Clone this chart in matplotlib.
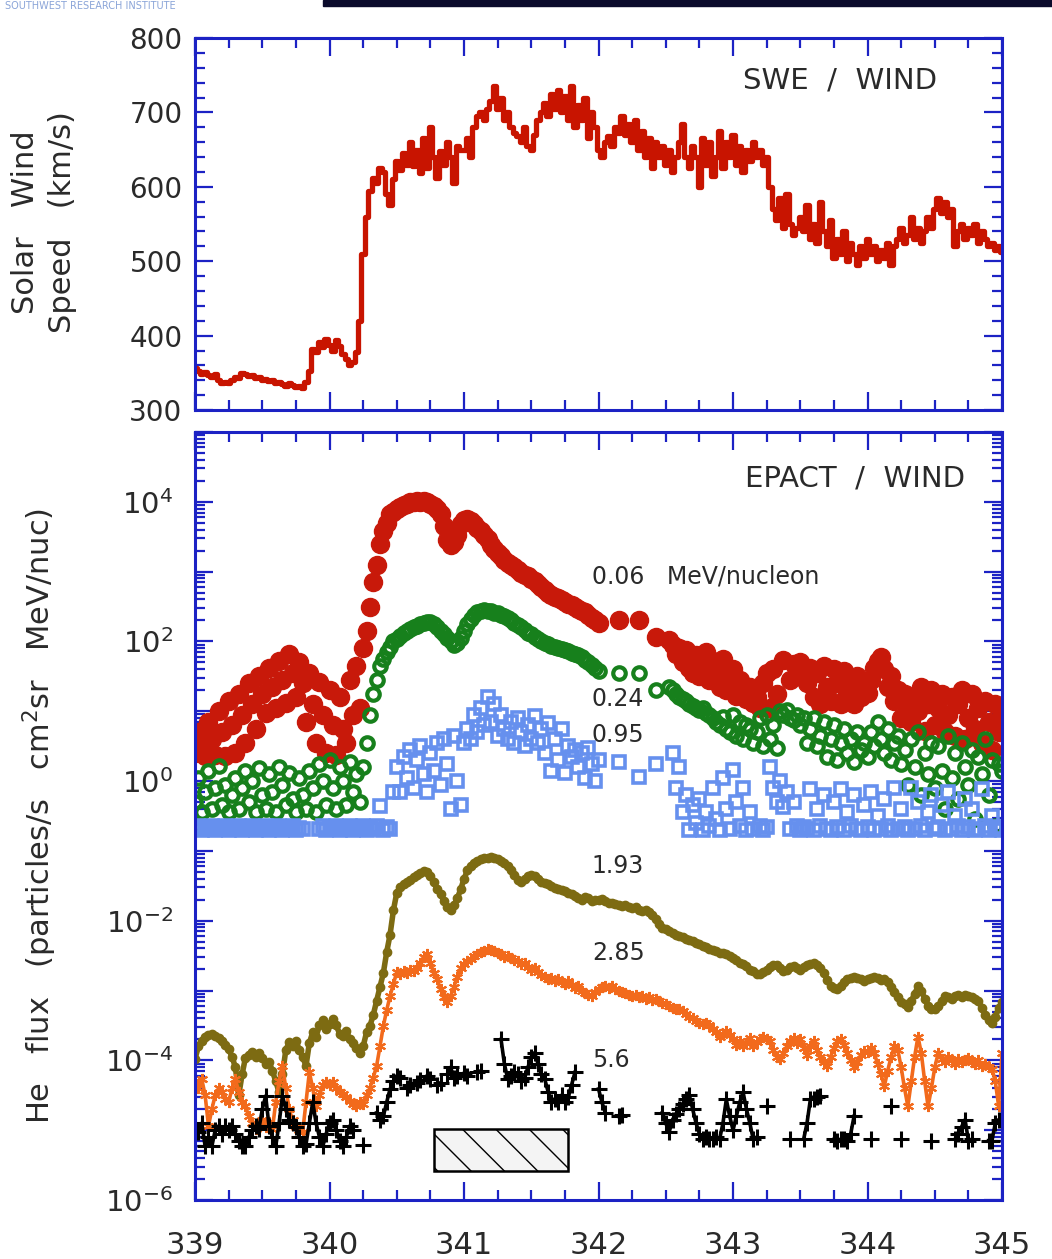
import numpy as np
import matplotlib
matplotlib.use("Agg")
import matplotlib.pyplot as plt
from matplotlib.patches import Rectangle
from matplotlib.ticker import FixedLocator, MultipleLocator, FuncFormatter, NullFormatter

nan = np.nan

# day of year, sampled every 0.025 day from 339.0 to 345.0
day_start = 339.0
day_step = 0.025

# solar wind speed (km/s)
speed = [
    356, 352, 349, 351, 347, 345, 348, 340, 336, 338,
    337, 341, 345, 343, 350, 348, 346, 347, 343, 344,
    341, 342, 339, 340, 336, 338, 335, 333, 336, 334,
    331, 333, 330, 338, 352, 382, 378, 392, 385, 395,
    388, 380, 394, 386, 376, 368, 360, 364, 378, 420,
    510, 560, 595, 612, 605, 625, 620, 590, 575, 610,
    635, 622, 645, 630, 660, 628, 650, 618, 665, 625,
    680, 640, 612, 648, 630, 660, 640, 605, 655, 650,
    650, 665, 640, 680, 695, 700, 690, 705, 715, 735,
    705, 720, 690, 700, 680, 672, 668, 660, 680, 655,
    650, 670, 690, 700, 712, 695, 725, 705, 730, 700,
    722, 690, 735, 680, 710, 690, 720, 665, 700, 680,
    650, 640, 660, 668, 655, 680, 672, 695, 670, 685,
    660, 690, 650, 675, 640, 665, 625, 660, 640, 655,
    630, 650, 620, 640, 660, 685, 640, 625, 655, 640,
    600, 665, 630, 660, 615, 640, 675, 625, 660, 640,
    670, 630, 655, 620, 650, 635, 660, 640, 650, 630,
    640, 600, 570, 555, 585, 545, 590, 550, 535, 545,
    560, 540, 575, 530, 550, 525, 580, 540, 520, 555,
    505, 530, 510, 540, 500, 525, 510, 495, 520, 505,
    530, 510, 520, 500, 515, 505, 525, 495, 520, 530,
    545, 525, 535, 560, 530, 545, 525, 540, 560, 545,
    570, 585, 565, 580, 560, 570, 520, 540, 550, 530,
    545, 535, 550, 525, 540, 530, 520, 525, 515, 520,
    512,
]

# log10 He flux, 0.06 MeV/nucleon
he_006 = [
    0.40, 0.70, 0.52, 0.36, 0.85, 0.60, 0.38, 1.00, 0.70, 0.36,
    1.15, 0.80, 0.40, 1.25, 0.95, 0.55, 1.40, 1.10, 0.75, 1.50,
    1.25, 0.98, 1.62, 1.35, 1.05, 1.72, 1.45, 1.12, 1.82, 1.55,
    1.20, 1.70, 1.40, 0.85, 1.55, 1.10, 0.55, 1.42, 0.95, 0.40,
    1.30, 0.80, 0.38, 1.20, 0.75, 0.55, 1.45, 0.95, 1.65, 1.05,
    1.90, 2.15, 2.50, 2.85, 3.10, 3.40, 3.58, 3.70, 3.82, 3.86,
    3.90, 3.93, 3.96, 3.97, 3.99, 4.00, 4.01, 4.00, 4.01, 3.99,
    3.97, 3.94, 3.90, 3.82, 3.65, 3.45, 3.38, 3.42, 3.52, 3.68,
    3.74, 3.76, 3.72, 3.68, 3.63, 3.58, 3.52, 3.46, 3.38, 3.32,
    3.26, 3.22, 3.16, 3.12, 3.10, 3.06, 3.02, 2.98, 2.95, 2.93,
    2.90, 2.86, 2.82, 2.78, 2.74, 2.70, 2.67, 2.64, 2.62, 2.59,
    2.56, 2.54, 2.52, 2.50, 2.47, 2.44, 2.42, 2.38, 2.34, 2.30,
    2.27, nan, nan, nan, nan, nan, 2.31, nan, nan, nan,
    nan, nan, 2.30, nan, nan, nan, nan, 2.07, nan, nan,
    nan, 2.02, 1.95, 1.82, 1.90, 1.70, 1.88, 1.62, 1.55, 1.80,
    1.50, 1.68, 1.85, 1.45, 1.72, 1.58, 1.35, 1.75, 1.30, 1.55,
    1.60, 1.22, 1.45, 1.30, 1.18, 1.35, 1.12, 1.20, 1.05, 1.40,
    1.55, 1.05, 1.60, 1.25, nan, 1.74, nan, 1.45, 1.68, 1.55,
    1.70, 1.48, 1.40, 1.62, 1.20, 1.55, 1.10, 1.65, 1.35, 1.15,
    1.60, 1.40, 1.10, 1.58, 1.25, 1.45, 1.10, 1.50, 1.20, 1.35,
    1.26, 1.45, 1.62, 1.72, 1.78, 1.60, 1.35, 1.50, 1.15, 1.30,
    0.90, 1.25, 1.05, 0.85, 1.20, 1.00, 1.35, 0.72, 1.10, 1.30,
    0.80, 1.05, 1.25, 0.70, 0.95, 1.20, 0.65, 1.10, 1.30, 0.60,
    0.90, 1.25, 0.75, 1.05, 0.55, 1.15, 0.85, 0.45, 1.10, 0.70,
    0.95,
]

# log10 He flux, 0.24 MeV/nucleon
he_024 = [
    -0.30, 0.05, -0.45, -0.15, 0.15, -0.40, -0.10, 0.22, -0.35, -0.05,
    -0.45, -0.20, 0.05, -0.40, -0.10, 0.15, -0.30, 0.00, -0.45, 0.18,
    -0.20, -0.40, 0.10, -0.15, -0.45, 0.20, -0.05, -0.35, 0.12, -0.25,
    -0.45, 0.05, -0.20, -0.40, 0.15, -0.10, -0.45, 0.25, 0.00, -0.35,
    0.30, -0.10, -0.40, 0.20, 0.00, -0.35, 0.28, -0.15, 0.10, -0.30,
    0.20, 0.55, 0.95, 1.25, 1.45, 1.65, 1.75, 1.85, 1.92, 2.00,
    2.03, 2.08, 2.12, 2.15, 2.18, 2.20, 2.22, 2.25, 2.26, 2.28,
    2.28, 2.25, 2.20, 2.15, 2.10, 2.05, 2.00, 1.95, 1.98, 2.05,
    2.15, 2.25, 2.32, 2.38, 2.42, 2.44, 2.45, 2.44, 2.43, 2.41,
    2.40, 2.38, 2.36, 2.33, 2.30, 2.27, 2.24, 2.20, 2.16, 2.12,
    2.10, 2.06, 2.03, 2.00, 1.98, 1.96, 1.94, 1.92, 1.90, 1.89,
    1.88, 1.86, 1.84, 1.82, 1.80, 1.77, 1.74, 1.70, 1.66, 1.62,
    1.58, nan, nan, nan, nan, nan, 1.55, nan, nan, nan,
    nan, nan, 1.55, nan, nan, nan, nan, 1.31, nan, nan,
    nan, 1.35, 1.30, 1.25, 1.20, 1.18, 1.15, 1.10, 1.08, 1.05,
    1.02, 1.05, 0.98, 0.95, 0.90, 0.85, 0.80, 0.92, 0.75, 0.70,
    0.95, 0.65, 0.85, 0.60, 0.80, 0.75, 0.55, 0.70, 0.90, 0.50,
    0.95, 0.60, 0.80, 0.48, 1.00, 0.95, 1.02, 0.90, 0.88, 0.95,
    0.80, 0.90, 0.55, 0.75, 0.90, 0.50, 0.65, 0.85, 0.35, 0.60,
    0.80, 0.30, 0.55, 0.75, 0.40, 0.60, 0.28, 0.70, 0.45, 0.55,
    0.35, 0.70, 0.50, 0.85, 0.60, 0.40, 0.75, 0.30, 0.55, 0.65,
    0.25, 0.45, -0.05, 0.60, 0.20, 0.70, -0.20, 0.40, 0.10, 0.55,
    -0.10, 0.50, 0.15, -0.40, 0.65, 0.05, 0.40, -0.25, 0.55, 0.20,
    -0.05, 0.45, -0.55, 0.35, 0.10, 0.60, -0.20, 0.30, -0.65, 0.25,
    0.15,
]

# log10 He flux, 0.95 MeV/nucleon
he_095 = [
    -0.68, -0.65, -0.70, -0.66, -0.68, -0.64, -0.70, -0.67, -0.68, -0.65,
    -0.70, -0.66, -0.68, -0.64, -0.70, -0.67, -0.68, -0.65, -0.70, -0.66,
    -0.68, -0.64, -0.70, -0.67, -0.68, -0.65, -0.70, -0.66, -0.68, -0.64,
    -0.70, -0.67, -0.68, nan, nan, nan, nan, -0.68, -0.65, -0.70,
    -0.66, -0.68, -0.64, -0.70, -0.67, -0.68, -0.65, -0.70, -0.66, -0.68,
    -0.64, -0.70, -0.67, -0.68, -0.65, -0.36, -0.70, -0.66, -0.68, -0.15,
    0.20, -0.15, 0.35, 0.05, 0.45, -0.10, 0.30, 0.50, 0.10, -0.15,
    0.40, 0.15, 0.55, -0.05, 0.60, 0.25, -0.40, 0.64, 0.00, -0.35,
    0.55, 0.75, 0.60, 0.95, 0.70, 1.05, 0.80, 1.21, 0.85, 1.10,
    0.65, 0.95, 0.75, 0.60, 0.85, 0.55, 0.90, 0.70, 0.50, 0.80,
    0.60, 0.93, 0.55, 0.75, 0.40, 0.83, 0.15, 0.60, 0.30, 0.75,
    0.12, 0.50, 0.35, 0.45, 0.20, 0.40, 0.05, 0.48, 0.25, 0.00,
    0.30, nan, nan, nan, nan, nan, 0.28, nan, nan, nan,
    nan, nan, 0.06, nan, nan, nan, nan, 0.24, nan, nan,
    nan, nan, 0.40, -0.10, 0.20, -0.45, -0.20, -0.70, -0.35, -0.60,
    -0.25, -0.70, -0.45, -0.65, -0.10, -0.55, -0.70, 0.05, -0.40, -0.68,
    0.16, -0.30, -0.65, -0.10, -0.70, -0.45, -0.68, nan, -0.65, -0.70,
    -0.66, 0.20, -0.10, -0.30, 0.00, -0.37, -0.15, -0.68, -0.30, -0.65,
    -0.70, -0.66, -0.68, -0.12, -0.70, -0.40, -0.65, -0.20, -0.68, -0.70,
    -0.30, -0.66, -0.12, -0.70, -0.45, -0.65, -0.20, -0.68, -0.70, -0.35,
    -0.66, -0.15, -0.70, -0.50, -0.68, -0.25, -0.65, -0.70, -0.10, -0.68,
    -0.40, -0.66, -0.70, -0.10, -0.68, -0.30, -0.65, -0.70, -0.45, -0.20,
    -0.68, -0.66, -0.35, -0.70, -0.15, -0.68, -0.50, -0.65, -0.70, -0.25,
    -0.66, -0.40, -0.70, -0.68, -0.12, -0.65, -0.70, -0.50, -0.68, -0.66,
    -0.70,
]

# log10 He flux, 1.93 MeV/nucleon
he_193 = [
    -3.98, -3.80, -3.72, -3.66, -3.64, -3.63, -3.65, -3.68, -3.72, -3.78,
    -3.84, -3.95, -4.10, -4.50, -4.20, -3.96, -3.92, -3.88, -3.95, -3.90,
    -3.96, -4.05, -4.02, -4.15, -4.30, -4.46, -4.20, -3.85, -3.74, -3.80,
    -3.72, -3.85, -3.95, -4.08, -3.75, -3.60, -3.66, -3.50, -3.42, -3.55,
    -3.48, -3.41, -3.50, -3.62, -3.65, -3.58, -3.70, -3.75, -3.82, -3.89,
    -3.80, -3.60, -3.51, -3.35, -3.15, -2.95, -2.75, -2.45, -2.20, -1.85,
    -1.60, -1.52, -1.48, -1.45, -1.42, -1.38, -1.35, -1.32, -1.29, -1.30,
    -1.36, -1.45, -1.55, -1.62, -1.72, -1.80, -1.84, -1.78, -1.68, -1.55,
    -1.40, -1.28, -1.22, -1.18, -1.15, -1.12, -1.10, -1.10, -1.09, -1.10,
    -1.12, -1.14, -1.18, -1.22, -1.28, -1.35, -1.42, -1.45, -1.40, -1.36,
    -1.34, -1.36, -1.40, -1.44, -1.46, -1.48, -1.50, -1.53, -1.55, -1.56,
    -1.58, -1.60, -1.62, -1.65, -1.68, -1.70, -1.66, -1.68, -1.72, -1.70,
    -1.71, -1.69, -1.72, -1.75, -1.74, -1.76, -1.78, -1.79, -1.77, -1.80,
    -1.82, -1.80, -1.84, -1.86, -1.84, -1.88, -1.92, -1.98, -2.05, -2.10,
    -2.12, -2.15, -2.18, -2.20, -2.22, -2.24, -2.26, -2.27, -2.29, -2.32,
    -2.34, -2.36, -2.38, -2.40, -2.42, -2.44, -2.46, -2.47, -2.48, -2.50,
    -2.53, -2.56, -2.60, -2.62, -2.65, -2.70, -2.72, -2.76, -2.77, -2.74,
    -2.70, -2.66, -2.64, -2.63, -2.68, -2.72, -2.70, -2.67, -2.65, -2.68,
    -2.70, -2.67, -2.64, -2.62, -2.60, -2.63, -2.68, -2.75, -2.85, -2.93,
    -2.96, -2.98, -2.94, -2.88, -2.84, -2.82, -2.80, -2.82, -2.84, -2.86,
    -2.84, -2.82, -2.80, -2.82, -2.85, -2.83, -2.88, -2.95, -3.02, -3.10,
    -3.16, -3.20, -3.23, -3.15, -3.05, -2.94, -3.00, -3.12, -3.22, -3.27,
    -3.27, -3.22, -3.15, -3.08, -3.10, -3.12, -3.08, -3.06, -3.10, -3.07,
    -3.08, -3.10, -3.12, -3.15, -3.25, -3.35, -3.42, -3.46, -3.38, -3.25,
    -3.17,
]

# log10 He flux, 2.85 MeV/nucleon
he_285 = [
    -4.30, -4.40, -4.27, -4.50, -4.94, -4.70, -4.50, -4.40, -4.45, -4.55,
    -4.60, -4.40, -4.27, -4.45, -4.60, -4.66, -4.80, -4.90, -4.99, -4.90,
    -4.85, -4.95, -4.88, -4.99, -4.60, -4.30, -4.08, -4.40, -4.70, -4.86,
    -4.95, -5.00, -5.03, -4.60, -4.17, -4.40, -4.66, -4.50, -4.35, -4.31,
    -4.35, -4.31, -4.40, -4.45, -4.48, -4.52, -4.58, -4.62, -4.66, -4.60,
    -4.62, -4.50, -4.40, -4.25, -4.08, -3.80, -3.51, -3.28, -3.08, -2.90,
    -2.74, -2.76, -2.72, -2.75, -2.70, -2.72, -2.68, -2.60, -2.52, -2.48,
    -2.60, -2.75, -2.84, -2.98, -3.10, -3.17, -3.08, -2.95, -2.80, -2.68,
    -2.62, -2.58, -2.55, -2.50, -2.48, -2.45, -2.43, -2.41, -2.42, -2.44,
    -2.46, -2.48, -2.52, -2.50, -2.54, -2.56, -2.58, -2.62, -2.60, -2.66,
    -2.70, -2.68, -2.74, -2.78, -2.80, -2.84, -2.82, -2.86, -2.84, -2.88,
    -2.90, -2.86, -2.92, -2.96, -2.94, -3.00, -3.04, -3.06, -3.08, -3.02,
    -2.98, -2.95, -2.94, -2.96, -2.93, -2.98, -3.00, -3.02, -3.04, -3.06,
    -3.08, -3.06, -3.10, -3.08, -3.12, -3.10, -3.14, -3.12, -3.15, -3.18,
    -3.20, -3.22, -3.25, -3.27, -3.26, -3.30, -3.34, -3.38, -3.40, -3.44,
    -3.46, -3.48, -3.46, -3.50, -3.55, -3.60, -3.66, -3.62, -3.58, -3.64,
    -3.70, -3.78, -3.72, -3.80, -3.75, -3.68, -3.80, -3.74, -3.70, -3.66,
    -3.70, -3.72, -3.85, -3.95, -3.98, -3.90, -3.80, -3.72, -3.68, -3.75,
    -3.70, -3.82, -3.92, -3.80, -3.72, -3.85, -3.95, -4.02, -4.08, -3.95,
    -3.82, -3.72, -3.70, -3.78, -3.90, -4.00, -4.10, -4.02, -3.92, -3.86,
    -3.88, -3.82, -3.90, -4.05, -4.20, -4.37, -4.15, -3.95, -3.80, -3.85,
    -4.10, -4.40, -4.66, -4.30, -3.95, -3.66, -3.90, -4.30, -4.66, -4.40,
    -4.10, -3.90, -3.98, -4.02, -3.95, -4.00, -4.05, -3.98, -4.02, -4.00,
    -3.96, -4.02, -4.05, -4.00, -4.08, -4.05, -4.10, -4.12, -4.30, -4.66,
    -3.90,
]

# log10 He flux, 5.6 MeV/nucleon (gaps where no counts)
he_56 = [
    -4.95, -5.03, -4.90, -5.23, -5.10, -5.23, -5.00, -4.94, -5.05, -4.94,
    -5.00, -4.94, -5.05, -5.15, -5.23, -5.23, -5.10, -5.00, -4.94, -4.98,
    -4.70, -4.51, -4.94, -5.10, -5.23, -4.90, -4.51, -4.70, -4.85, -4.90,
    -4.95, -5.10, -5.23, -5.20, -4.90, -4.60, -4.90, -5.10, -5.23, -5.05,
    -4.90, -4.85, -5.00, -5.15, -5.23, -5.10, -4.94, -5.00, nan, nan,
    -5.22, nan, nan, nan, -4.75, -4.85, -4.80, -4.60, -4.41, -4.30,
    -4.22, -4.25, nan, -4.40, -4.36, nan, -4.33, -4.28, nan, -4.22,
    -4.27, nan, -4.36, -4.32, nan, -4.20, -4.10, -4.25, -4.22, nan,
    -4.18, -4.22, nan, nan, -4.17, -4.15, nan, nan, nan, nan,
    nan, -3.70, -4.05, -4.27, -4.22, -4.17, -4.20, -4.30, -4.25, -4.10,
    -3.95, -3.89, -4.05, -4.20, -4.27, -4.45, -4.60, -4.55, -4.60, -4.50,
    -4.60, -4.52, -4.35, -4.17, nan, nan, nan, nan, nan, nan,
    -4.41, -4.60, -4.75, nan, nan, nan, -4.80, -4.78, nan, nan,
    nan, nan, nan, nan, nan, nan, nan, nan, nan, -4.75,
    -4.90, -5.03, -4.85, -4.77, -4.70, -4.62, -4.55, -4.50, -4.70, -4.90,
    -5.05, -5.13, -5.10, -5.13, -5.13, -5.10, -5.13, -4.90, -4.56, -4.80,
    -5.00, -4.80, -4.60, -4.46, -4.70, -4.90, -5.13, -5.10, nan, nan,
    -4.66, nan, nan, nan, nan, nan, nan, -5.13, nan, nan,
    nan, -5.13, -4.90, -4.56, -4.55, -4.52, -4.51, nan, nan, nan,
    -5.13, -5.15, -5.13, -5.12, -5.15, -5.05, -4.80, nan, nan, nan,
    nan, -5.13, nan, nan, nan, nan, nan, -4.66, nan, nan,
    -5.13, nan, nan, nan, nan, nan, nan, nan, nan, -5.15,
    nan, nan, nan, nan, nan, nan, -5.13, -5.05, -4.95, -4.85,
    -5.15, -5.13, nan, nan, nan, nan, -5.15, -5.15, -4.90, -4.85,
    -4.85,
]

channel_labels = ["0.06   MeV/nucleon", "0.24", "0.95", "1.93", "2.85", "5.6"]
channel_label_y = [2.93, 1.17, 0.66, -1.22, -2.47, -4.0]

AXIS_BLUE = "#1c22c4"
TEXT = "#2a2a2a"

days = day_start + day_step * np.arange(len(speed))


def style_axis(ax):
    for s in ax.spines.values():
        s.set_color(AXIS_BLUE)
        s.set_linewidth(2.2)
    ax.tick_params(which="both", direction="in", top=True, right=True,
                   color=AXIS_BLUE, width=1.6, labelcolor=TEXT)
    ax.tick_params(which="major", length=13)
    ax.tick_params(which="minor", length=7)
    ax.set_xlim(339, 345)
    ax.xaxis.set_major_locator(MultipleLocator(1))
    ax.xaxis.set_minor_locator(MultipleLocator(0.25))


def log_label(v, pos):
    e = int(round(np.log10(v)))
    if e % 2:
        return ""
    return r"$10^{%d}$" % e


fig = plt.figure(figsize=(10.52, 12.59), dpi=100)

# header strip of the source slide
fig.patches.append(Rectangle((323 / 1052, 1 - 6 / 1259), 1, 6 / 1259,
                             transform=fig.transFigure, color="#0b0b2c"))
fig.text(5 / 1052, 0.9995, "SOUTHWEST RESEARCH INSTITUTE", color="#8aa4d8",
         fontsize=7, ha="left", va="top")

# ---- solar wind speed
ax1 = fig.add_axes([0.1854, 0.6743, 0.7671, 0.2955])
style_axis(ax1)
ax1.plot(days, speed, color="#c81400", lw=3.8, drawstyle="steps-mid")
ax1.set_ylim(300, 800)
ax1.yaxis.set_major_locator(MultipleLocator(100))
ax1.yaxis.set_minor_locator(MultipleLocator(20))
ax1.tick_params(axis="x", labelbottom=False)
ax1.tick_params(axis="y", labelsize=20, pad=9)
ax1.text(0.919, 0.887, "SWE  /  WIND", transform=ax1.transAxes,
         ha="right", va="center", fontsize=21, color=TEXT)
fig.text(44 / 1052, 1 - 222 / 1259, "Solar   Wind\nSpeed   (km/s)", rotation=90,
         ha="center", va="center", multialignment="center", linespacing=1.35,
         fontsize=22, color=TEXT)

# ---- He fluxes
ax2 = fig.add_axes([0.1854, 0.0469, 0.7671, 0.6100])
style_axis(ax2)
ax2.set_yscale("log")
ax2.set_ylim(1e-6, 1e5)
ax2.yaxis.set_major_locator(FixedLocator(10.0 ** np.arange(-6, 6)))
ax2.yaxis.set_minor_locator(FixedLocator(
    [m * 10.0 ** e for e in range(-6, 5) for m in range(2, 10)]))
ax2.yaxis.set_major_formatter(FuncFormatter(log_label))
ax2.yaxis.set_minor_formatter(NullFormatter())
ax2.tick_params(axis="y", labelsize=21, pad=16)
ax2.tick_params(axis="x", labelsize=22, pad=22)

ax2.plot(days, 10 ** np.array(he_006), ls="none", marker="o", ms=13,
         color="#c8190a")
ax2.plot(days, 10 ** np.array(he_024), ls="none", marker="o", ms=9,
         mfc="none", mec="#17801c", mew=3.0)
ax2.plot(days, 10 ** np.array(he_095), ls="none", marker="s", ms=9,
         mfc="none", mec="#6690ee", mew=2.6)
ax2.plot(days, 10 ** np.array(he_193), color="#7d6b12", lw=4.0,
         marker="o", ms=6)
ax2.plot(days, 10 ** np.array(he_285), color="#f26a1c", lw=2.6,
         marker=(6, 2, 0), ms=8, mew=1.5)
ax2.plot(days, 10 ** np.array(he_56), color="black", lw=2.6,
         marker="+", ms=12, mew=2.2)

for lab, ly in zip(channel_labels, channel_label_y):
    ax2.text(341.95, 10 ** ly, lab, ha="left", va="center", fontsize=17,
             color=TEXT)

ax2.add_patch(Rectangle((340.78, 10 ** -5.59), 0.99,
                        10 ** -4.99 - 10 ** -5.59, facecolor="#f4f4f4",
                        edgecolor="black", lw=1.8, hatch="\\"))

ax2.text(0.954, 0.939, "EPACT  /  WIND", transform=ax2.transAxes,
         ha="right", va="center", fontsize=21, color=TEXT)
fig.text(40 / 1052, 1 - 816 / 1259,
         r"He   flux   (particles/s   cm$^2$sr   MeV/nuc)", rotation=90,
         ha="center", va="center", fontsize=22, color=TEXT)

fig.savefig("out.png", dpi=100)
